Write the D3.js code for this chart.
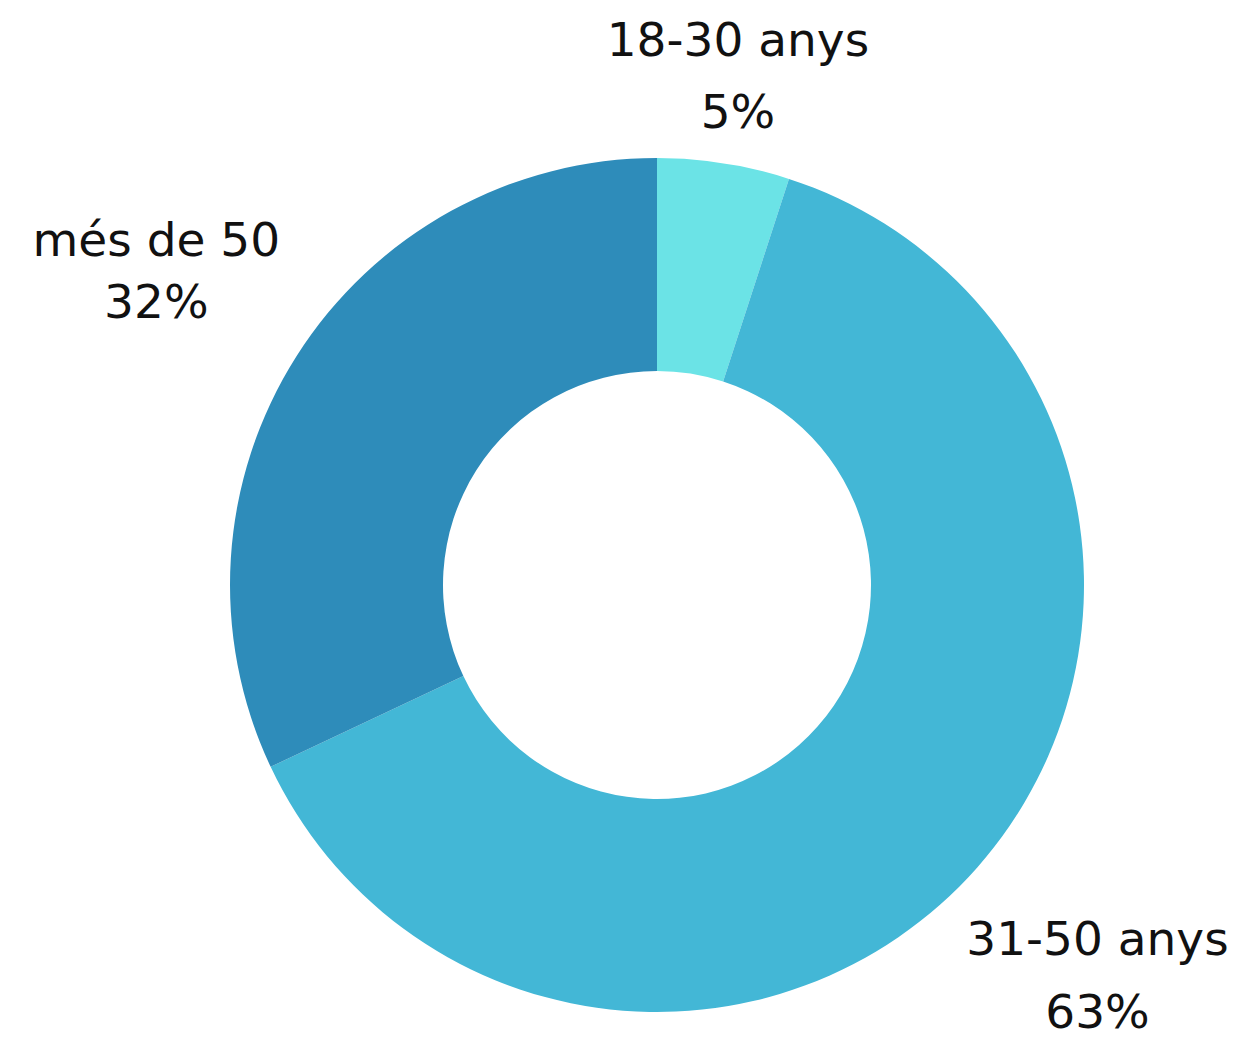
<!DOCTYPE html>
<html>
<head>
<meta charset="utf-8">
<script src="https://cdn.jsdelivr.net/npm/d3@7"></script>
<style>
  html, body { margin: 0; padding: 0; background: #fff; }
  svg text { font-family: "DejaVu Sans", sans-serif; font-size: 47px; fill: #111; }
</style>
</head>
<body>
<div id="chart"></div>
<script>
// dades
var categories = ["18-30 anys", "31-50 anys", "més de 50"];
var values = [5, 63, 32];
var colors = ["#6be3e6", "#43b7d6", "#2e8cba"];

var width = 1241, height = 1041;
var cx = 657, cy = 585;
var outerR = 427, innerR = 214;

// label placement: distance from centre and small angle nudge (deg) off each slice's mid angle
var labelRadius = [535, 575, 599];
var labelNudge = [-0.3, -1.4, 0.9];
var lineGap = [72, 73, 62];

var data = categories.map((c, i) => ({ key: c, value: values[i] }));

var svg = d3.select("#chart").append("svg")
    .attr("width", width)
    .attr("height", height);

var g = svg.append("g")
    .attr("transform", `translate(${cx}, ${cy})`);

var pie = d3.pie()
    .sort(null)
    .value(d => d.value);

var arc = d3.arc()
    .innerRadius(innerR)
    .outerRadius(outerR);

var arcs = pie(data);

g.selectAll("path.slice")
    .data(arcs)
    .enter()
    .append("path")
    .attr("class", "slice")
    .attr("d", arc)
    .style("fill", (d, i) => colors[i]);

var labels = g.selectAll("g.label")
    .data(arcs)
    .enter()
    .append("g")
    .attr("class", "label")
    .attr("transform", (d, i) => {
        var a = (d.startAngle + d.endAngle) / 2 + labelNudge[i] * Math.PI / 180;
        var r = labelRadius[i];
        return `translate(${Math.sin(a) * r}, ${-Math.cos(a) * r})`;
    });

labels.append("text")
    .style("text-anchor", "middle")
    .text(d => d.data.key);

labels.append("text")
    .style("text-anchor", "middle")
    .attr("y", (d, i) => lineGap[i])
    .text(d => d3.format(".0f")(d.value) + "%");
</script>
</body>
</html>
